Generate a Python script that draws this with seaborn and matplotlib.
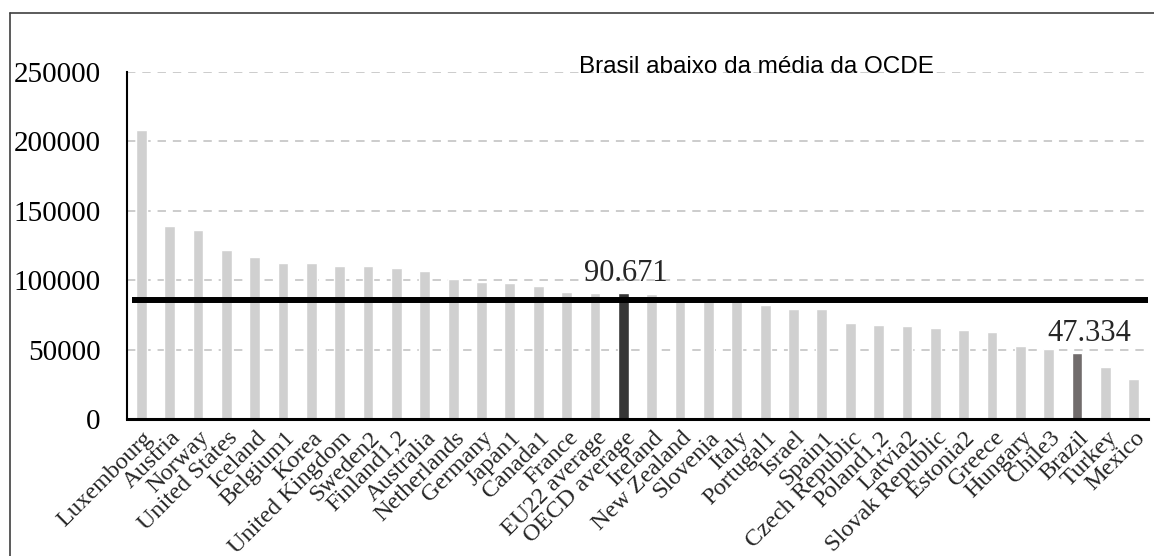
import numpy as np
import pandas as pd
import matplotlib
matplotlib.use("Agg")
import matplotlib.pyplot as plt
import seaborn as sns
from matplotlib.transforms import ScaledTranslation
from matplotlib.lines import Line2D

# data
countries = [
    "Luxembourg", "Austria", "Norway", "United States", "Iceland", "Belgium1",
    "Korea", "United Kingdom", "Sweden2", "Finland1,2", "Australia", "Netherlands",
    "Germany", "Japan1", "Canada1", "France", "EU22 average", "OECD average",
    "Ireland", "New Zealand", "Slovenia", "Italy", "Portugal1", "Israel",
    "Spain1", "Czech Republic", "Poland1,2", "Latvia2", "Slovak Republic",
    "Estonia2", "Greece", "Hungary", "Chile3", "Brazil", "Turkey", "Mexico",
]
spending = [
    208000, 139200, 136300, 121500, 117000, 112700,
    112300, 110400, 110400, 108800, 106800, 101000,
    98400, 97900, 96000, 91700, 90900, 90671,
    89900, 87500, 86500, 85800, 82300, 79400,
    79200, 69100, 67900, 66700, 65700,
    63800, 62400, 52800, 50400, 47334, 37400, 28800,
]
reference_line = 85500
highlight = {"OECD average": "#363636", "Brazil": "#716c6c"}
labels = {"OECD average": "90.671", "Brazil": "47.334"}
title = "Brasil abaixo da média da OCDE"
yticks = [0, 50000, 100000, 150000, 200000, 250000]

df = pd.DataFrame({"country": countries, "value": spending})
palette = {c: highlight.get(c, "#d0d0d0") for c in countries}

sns.set_style("white")
plt.rcParams["font.family"] = ["Liberation Serif", "DejaVu Serif"]

fig = plt.figure(figsize=(11.54, 5.56), dpi=100)
ax = fig.add_axes([127 / 1154, 137 / 556, 1021 / 1154, 347 / 556])

sns.barplot(data=df, x="country", y="value", hue="country", palette=palette,
            width=0.38, legend=False, saturation=1, ax=ax, zorder=2)

# dashed gridlines
for t in yticks[1:]:
    ax.axhline(t, color="#bfbfbf", lw=1.1, ls=(0, (5.5, 4.5)), zorder=1)

# average line
ax.hlines(reference_line, -0.32, 35.5, color="black", lw=4.3, zorder=3)

# value labels
ax.annotate(labels["OECD average"], xy=(countries.index("OECD average"), 90671),
            xytext=(2, 4), textcoords="offset points", ha="center", va="bottom",
            fontsize=22, zorder=4)
ax.annotate(labels["Brazil"], xy=(countries.index("Brazil"), 47334),
            xytext=(9, 4), textcoords="offset points", ha="center", va="bottom",
            fontsize=22, zorder=4)

ax.set_xlim(-0.5, len(countries) - 0.5)
ax.set_ylim(0, 250000)
ax.set_xlabel("")
ax.set_ylabel("")

ax.set_yticks(yticks)
ax.set_yticklabels([str(t) for t in yticks], fontsize=21)
ax.tick_params(axis="y", direction="in", length=7, width=1.5, pad=19, colors="black")

ax.set_xticks(range(len(countries)))
ax.set_xticklabels(countries, rotation=45, ha="right", va="top",
                   rotation_mode="anchor", fontsize=17.5)
ax.tick_params(axis="x", which="major", length=0, pad=6)
ax.set_xticks(np.arange(-0.5, len(countries)), minor=True)
ax.tick_params(axis="x", which="minor", direction="in", length=3.6, width=1.2,
               color="black")
shift = ScaledTranslation(1 / 100, 0, fig.dpi_scale_trans)
for lab in ax.get_xticklabels():
    lab.set_transform(lab.get_transform() + shift)

for s in ["top", "right"]:
    ax.spines[s].set_visible(False)
ax.spines["left"].set_color("black")
ax.spines["left"].set_linewidth(1.5)
ax.spines["bottom"].set_color("black")
ax.spines["bottom"].set_linewidth(2.2)
ax.spines["bottom"].set_zorder(5)

fig.text(756 / 1154, 1 - 73 / 556, title, ha="center", va="baseline",
         fontsize=17.5, color="black", family=["Liberation Sans", "DejaVu Sans"])

# outer chart frame
fig.add_artist(Line2D([10 / 1154, 10 / 1154], [0, 1 - 13 / 556],
                      transform=fig.transFigure, color="#404040", lw=1.2))
fig.add_artist(Line2D([10 / 1154, 1], [1 - 13 / 556, 1 - 13 / 556],
                      transform=fig.transFigure, color="#404040", lw=1.2))

fig.savefig("out.png", dpi=100)
